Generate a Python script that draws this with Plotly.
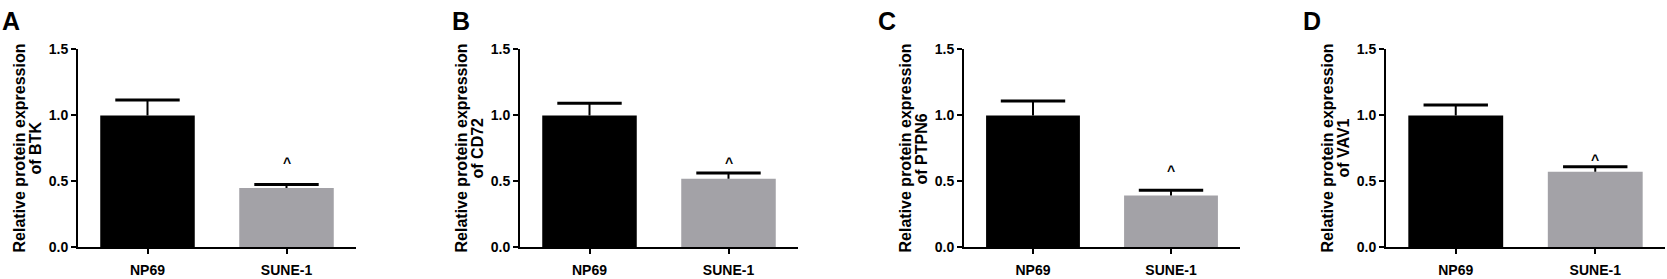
import plotly.graph_objects as go

panel_letters = ["A", "B", "C", "D"]
proteins = ["BTK", "CD72", "PTPN6", "VAV1"]
categories = ["NP69", "SUNE-1"]
means = [
    [1.00, 0.45],
    [1.00, 0.52],
    [1.00, 0.393],
    [1.00, 0.574],
]
errors = [
    [0.117, 0.026],
    [0.093, 0.044],
    [0.110, 0.040],
    [0.080, 0.038],
]
caret_y = [0.66, 0.66, 0.60, 0.684]
y_ticks = [0.0, 0.5, 1.0, 1.5]
y_ticktext = ["0.0", "0.5", "1.0", "1.5"]

W, H = 1667, 279
x_domains_px = [(78, 356), (520, 798), (964, 1240), (1386, 1665)]
y_top_px, y_bot_px = 44, 254
letter_x_px = [0, 450, 876, 1301]
bar_colors = ["#000000", "#a3a2a7"]
FONT = "Liberation Sans, Arial, Helvetica, sans-serif"

fig = go.Figure()
annotations = []
layout = {}
ydom = [(H - y_bot_px) / H, (H - y_top_px) / H]

for i in range(4):
    ax = "" if i == 0 else str(i + 1)
    fig.add_trace(go.Bar(
        x=categories, y=means[i],
        width=0.68,
        marker=dict(color=bar_colors, line=dict(width=0)),
        xaxis="x" + ax, yaxis="y" + ax, showlegend=False, hoverinfo="skip",
    ))
    tops = [m + e for m, e in zip(means[i], errors[i])]
    fig.add_trace(go.Scatter(
        x=categories, y=tops, mode="markers",
        marker=dict(symbol="line-ew", size=46, color="#000",
                    line=dict(width=3, color="#000")),
        error_y=dict(type="data", symmetric=False, array=[0, 0], arrayminus=errors[i],
                     color="#000000", thickness=2, width=0),
        xaxis="x" + ax, yaxis="y" + ax, showlegend=False, hoverinfo="skip",
    ))
    x0, x1 = x_domains_px[i]
    layout["xaxis" + ax] = dict(
        domain=[x0 / W, x1 / W], anchor="y" + ax, range=[-0.5, 1.5],
        showline=True, linecolor="#000", linewidth=2, ticks="outside", ticklen=5,
        tickwidth=2, tickcolor="#000", showgrid=False, zeroline=False, fixedrange=True,
        ticklabelstandoff=4,
        tickfont=dict(family=FONT, size=14, color="#000", weight="bold"),
    )
    layout["yaxis" + ax] = dict(
        domain=ydom, anchor="x" + ax, range=[0, 1.5],
        tickvals=y_ticks, ticktext=y_ticktext,
        showline=True, linecolor="#000", linewidth=2, ticks="outside", ticklen=5,
        tickwidth=2, tickcolor="#000", showgrid=False, zeroline=False, fixedrange=True,
        tickfont=dict(family=FONT, size=14, color="#000", weight="bold"),
    )
    mid = (ydom[0] + ydom[1]) / 2
    annotations.append(dict(
        text="Relative protein expression", textangle=-90, xref="paper", yref="paper",
        x=(x0 - 59) / W, y=mid, xanchor="center", yanchor="middle", showarrow=False,
        font=dict(family=FONT, size=16, color="#000", weight="bold"),
    ))
    annotations.append(dict(
        text="of " + proteins[i], textangle=-90, xref="paper", yref="paper",
        x=(x0 - 43) / W, y=mid, xanchor="center", yanchor="middle", showarrow=False,
        font=dict(family=FONT, size=16, color="#000", weight="bold"),
    ))
    annotations.append(dict(
        text=panel_letters[i], xref="paper", yref="paper",
        x=letter_x_px[i] / W, y=1 - 13.5 / H, xanchor="left", yanchor="middle",
        showarrow=False, font=dict(family=FONT, size=25, color="#000", weight="bold"),
    ))
    annotations.append(dict(
        text="^", xref="x" + ax, yref="y" + ax, x=categories[1], y=caret_y[i],
        xanchor="center", yanchor="middle", yshift=-3, showarrow=False,
        font=dict(family=FONT, size=14, color="#000", weight="bold"),
    ))

fig.update_layout(
    width=W, height=H, margin=dict(l=0, r=0, t=0, b=0),
    paper_bgcolor="#ffffff", plot_bgcolor="#ffffff",
    annotations=annotations, **layout,
)
fig.write_html("out.html", config={"displayModeBar": False},
               post_script="document.body.style.margin='0';document.body.style.overflow='hidden';")
